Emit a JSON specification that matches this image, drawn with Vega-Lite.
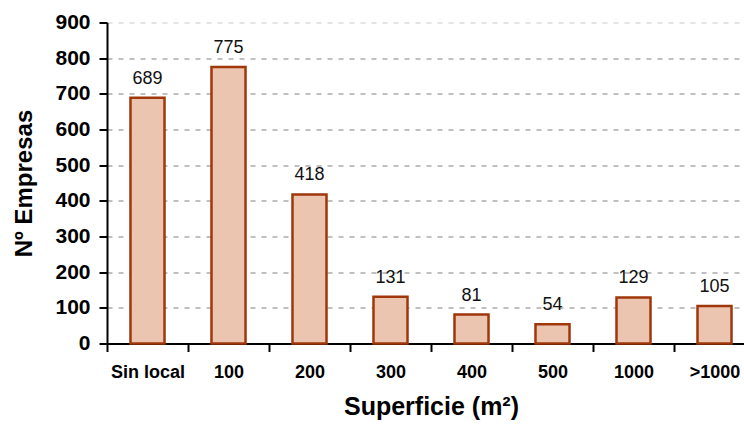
{
  "$schema": "https://vega.github.io/schema/vega-lite/v6.json",
  "autosize": {"type": "none"},
  "padding": {"left": 107, "top": 22.5, "right": 0, "bottom": 82.5},
  "width": 637,
  "height": 321,
  "background": "white",
  "data": {
    "values": [
      {"cat": "Sin local", "n": 689},
      {"cat": "100", "n": 775},
      {"cat": "200", "n": 418},
      {"cat": "300", "n": 131},
      {"cat": "400", "n": 81},
      {"cat": "500", "n": 54},
      {"cat": "1000", "n": 129},
      {"cat": ">1000", "n": 105}
    ]
  },
  "encoding": {
    "x": {
      "field": "cat",
      "type": "nominal",
      "sort": null,
      "scale": {"range": [0, 648], "paddingInner": 0.58, "paddingOuter": 0.29},
      "axis": {
        "title": "Superficie (m²)",
        "titleFont": "Liberation Sans",
        "titleFontSize": 25,
        "titleFontWeight": "bold",
        "titleColor": "#000",
        "titlePadding": 13,
        "labelFont": "Liberation Sans",
        "labelFontSize": 18,
        "labelFontWeight": "bold",
        "labelColor": "#000",
        "labelAngle": 0,
        "labelPadding": 12,
        "bandPosition": 0.5,
        "tickOffset": -40.5,
        "labelOffset": 40.5,
        "tickSize": 8,
        "tickWidth": 2,
        "tickColor": "#000",
        "domainColor": "#000",
        "domainWidth": 2,
        "grid": false
      }
    },
    "y": {
      "field": "n",
      "type": "quantitative",
      "scale": {"domain": [0, 900], "nice": false},
      "axis": {
        "title": "Nº Empresas",
        "titleFont": "Liberation Sans",
        "titleFontSize": 24,
        "titleFontWeight": "bold",
        "titleColor": "#000",
        "titlePadding": 18,
        "labelFont": "Liberation Sans",
        "labelFontSize": 21,
        "labelFontWeight": "bold",
        "labelColor": "#000",
        "labelPadding": 9,
        "values": [0, 100, 200, 300, 400, 500, 600, 700, 800, 900],
        "tickSize": 8,
        "tickWidth": 2,
        "tickColor": "#000",
        "domainColor": "#000",
        "domainWidth": 2,
        "grid": true,
        "gridColor": {"condition": {"test": "datum.value === 900", "value": "#e4e4e4"}, "value": "#c0c0c0"},
        "gridWidth": 2,
        "gridDash": [5, 6]
      }
    }
  },
  "layer": [
    {"mark": {"type": "bar", "fill": "#ebc5b0", "stroke": "#a0370a", "strokeWidth": 2.5}},
    {
      "mark": {"type": "text", "dy": -14, "baseline": "alphabetic", "font": "Liberation Sans", "fontSize": 18, "color": "#111"},
      "encoding": {"text": {"field": "n", "type": "quantitative"}}
    }
  ],
  "config": {"view": {"stroke": null}}
}
